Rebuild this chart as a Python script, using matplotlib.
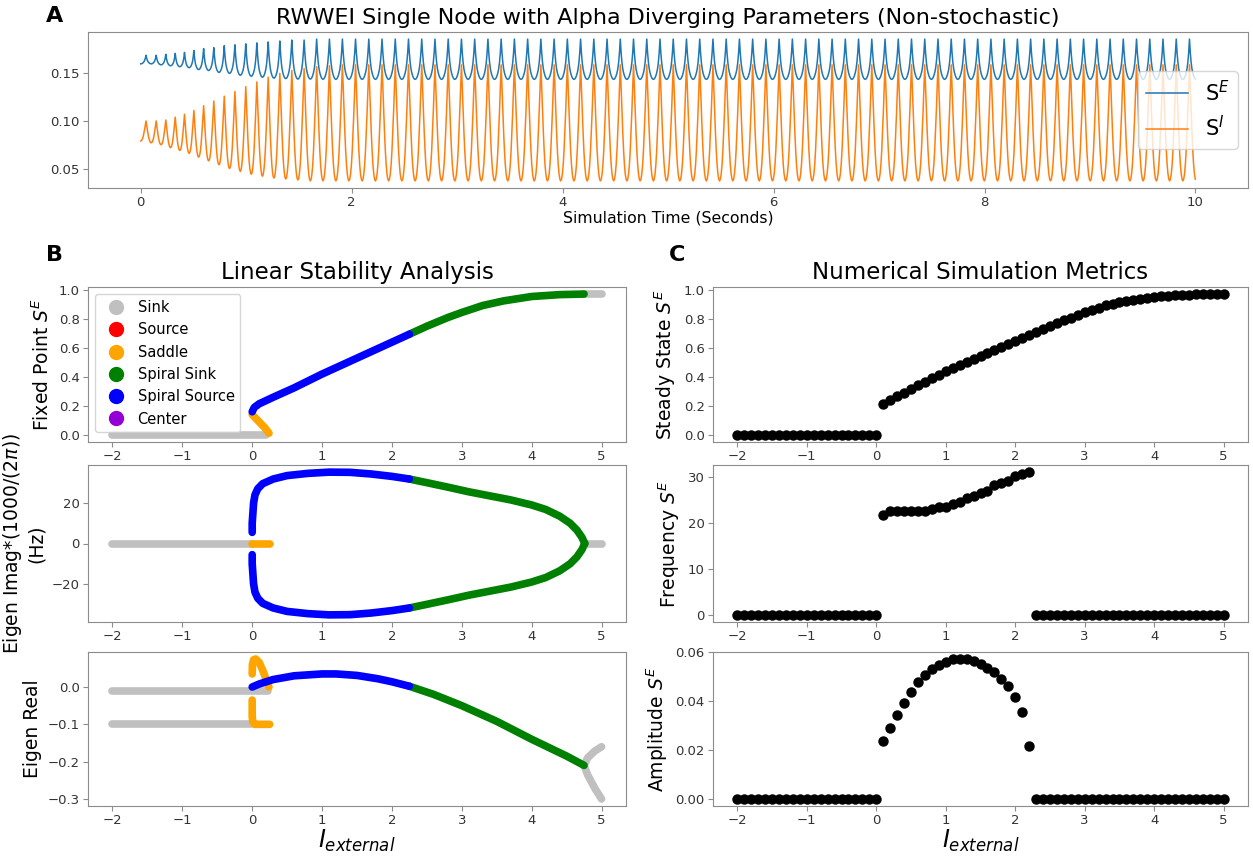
import matplotlib
matplotlib.use("Agg")
from matplotlib import pyplot as plt
from matplotlib.lines import Line2D
import numpy as np

# ---------------- panel A: read cycle by cycle off the traces ----------------
# first 19 cycles (trough -> peak -> trough), oscillation still growing
early_period = [0.100, 0.093, 0.090, 0.088, 0.088, 0.090, 0.095, 0.098, 0.100, 0.102,
                0.104, 0.106, 0.109, 0.112, 0.115, 0.118, 0.120, 0.122, 0.124]
se_hi = [0.169, 0.169, 0.170, 0.171, 0.172, 0.174, 0.176, 0.177, 0.179, 0.180,
         0.181, 0.182, 0.183, 0.184, 0.185, 0.185, 0.186, 0.186, 0.186]
se_lo = [0.160, 0.160, 0.159, 0.158, 0.157, 0.156, 0.154, 0.153, 0.151, 0.150,
         0.148, 0.147, 0.146, 0.145, 0.1445, 0.144, 0.144, 0.1438, 0.1437]
si_hi = [0.100, 0.100, 0.101, 0.104, 0.107, 0.111, 0.116, 0.121, 0.126, 0.131,
         0.136, 0.141, 0.146, 0.150, 0.153, 0.155, 0.157, 0.158, 0.159]
si_lo = [0.079, 0.077, 0.075, 0.072, 0.069, 0.066, 0.062, 0.058, 0.054, 0.050,
         0.047, 0.044, 0.042, 0.040, 0.039, 0.038, 0.037, 0.037, 0.037]
# after ~2 s the cycles repeat
steady_period = 0.1255
steady_cycles = 64
se_steady = (0.1437, 0.186)   # trough, peak
si_steady = (0.037, 0.159)
# one cycle, normalised (0 = trough, 1 = peak)
shape_se = [0, 0.01, 0.04, 0.09, 0.16, 0.26, 0.42, 0.66, 1.0, 0.66, 0.42, 0.26, 0.16, 0.09, 0.04, 0.01]
shape_si = [0, 0.015, 0.06, 0.14, 0.26, 0.42, 0.60, 0.80, 1.0, 0.80, 0.60, 0.42, 0.26, 0.14, 0.06, 0.015]

# ---------------- panel B: branches of the bifurcation diagram ----------------
fp_sink_x = [-2.0, 0.2]
fp_sink_y = [0.0, 0.0]
fp_sink2_x = [4.75, 5.0]
fp_sink2_y = [0.972, 0.972]
fp_saddle_x = [0.0, 0.06, 0.12, 0.18, 0.22, 0.24]
fp_saddle_y = [0.14, 0.11, 0.08, 0.05, 0.025, 0.012]
fp_ssrc_x = [0.0, 0.03, 0.1, 0.3, 0.6, 1.0, 1.5, 2.0, 2.25]
fp_ssrc_y = [0.16, 0.19, 0.215, 0.26, 0.325, 0.42, 0.53, 0.64, 0.695]
fp_ssink_x = [2.25, 2.5, 2.8, 3.0, 3.3, 3.6, 4.0, 4.4, 4.75]
fp_ssink_y = [0.695, 0.75, 0.81, 0.845, 0.893, 0.925, 0.955, 0.968, 0.972]

im_sink_x = [-2.0, 0.0]
im_sink2_x = [4.78, 5.0]
im_saddle_x = [0.0, 0.25]
im_ssrc_x = [0.0, 0.0, 0.01, 0.02, 0.04, 0.08, 0.15, 0.3, 0.5, 0.8, 1.1, 1.4, 1.7, 2.0, 2.25]
im_ssrc_y = [5.5, 10, 15, 20, 24, 27, 29.5, 31.8, 33.5, 34.6, 35.2, 35.1, 34.3, 33.1, 31.8]
im_ssink_x = [2.25, 2.5, 2.8, 3.1, 3.4, 3.7, 4.0, 4.2, 4.4, 4.55, 4.65, 4.72, 4.76]
im_ssink_y = [31.8, 30.0, 27.8, 25.5, 23.5, 21.5, 19.0, 16.8, 13.5, 10.0, 6.5, 3.0, 0.0]

re_sink_a_x = [-2.0, 0.22]
re_sink_a_y = [-0.01, -0.01]
re_sink_b_x = [-2.0, 0.0]
re_sink_b_y = [-0.1, -0.1]
re_saddle_up_x = [0.0, 0.003, 0.02, 0.05, 0.1, 0.15, 0.2, 0.24]
re_saddle_up_y = [0.035, 0.06, 0.073, 0.075, 0.066, 0.045, 0.02, 0.0]
re_saddle_dn_x = [0.0, 0.0, 0.01, 0.04, 0.1, 0.25]
re_saddle_dn_y = [-0.035, -0.08, -0.095, -0.1, -0.1, -0.1]
re_ssrc_x = [0.0, 0.1, 0.3, 0.6, 1.0, 1.2, 1.5, 1.8, 2.0, 2.25]
re_ssrc_y = [0.0, 0.008, 0.02, 0.03, 0.035, 0.035, 0.031, 0.022, 0.014, 0.002]
re_ssink_x = [2.25, 2.6, 3.0, 3.5, 4.0, 4.5, 4.75]
re_ssink_y = [0.002, -0.02, -0.05, -0.092, -0.14, -0.185, -0.21]
re_sink_up_x = [4.75, 4.8, 4.9, 5.0]
re_sink_up_y = [-0.21, -0.19, -0.172, -0.16]
re_sink_dn_x = [4.75, 4.8, 4.9, 5.0]
re_sink_dn_y = [-0.21, -0.235, -0.27, -0.30]

# ---------------- panel C: simulation sweep, I = -2 .. 5 step 0.1 ----------------
i_sweep = np.linspace(-2, 5, 71)
steady = [0.0] * 21 + [0.213, 0.242, 0.269, 0.292, 0.319, 0.342, 0.364, 0.391, 0.417, 0.441,
                       0.462, 0.482, 0.505, 0.525, 0.548, 0.568, 0.590, 0.609, 0.629, 0.652,
                       0.672, 0.692, 0.710, 0.731, 0.751, 0.771, 0.791, 0.811, 0.830, 0.846,
                       0.864, 0.880, 0.894, 0.907, 0.917, 0.926, 0.934, 0.942, 0.949, 0.954,
                       0.958, 0.962, 0.965, 0.967, 0.969, 0.970, 0.971, 0.972, 0.972, 0.973]
freq = [0.0] * 21 + [21.7, 22.6, 22.6, 22.6, 22.6, 22.6, 22.6, 23.1, 23.6, 23.6, 24.1,
                     24.6, 25.5, 26.0, 26.5, 27.0, 28.2, 28.7, 29.1, 30.2, 30.7, 31.1] + [0.0] * 28
amp = [0.0] * 21 + [0.0238, 0.0289, 0.0344, 0.0394, 0.0437, 0.0477, 0.0507, 0.0531, 0.0550, 0.0562,
                    0.0571, 0.0573, 0.0571, 0.0564, 0.0554, 0.0538, 0.0520, 0.0492, 0.0461, 0.0418,
                    0.0356, 0.0215] + [0.0] * 28

SINK, SOURCE, SADDLE, SSINK, SSRC, CENTER = "silver", "red", "orange", "green", "blue", "darkviolet"


def trace(lo, hi, periods, shape):
    t, v = [], []
    t0 = 0.0
    n = len(shape)
    for k, p in enumerate(periods):
        lo_next = lo[k + 1] if k + 1 < len(lo) else lo[k]
        for j in range(n):
            base = lo[k] if j <= n // 2 else lo_next
            t.append(t0 + p * j / n)
            v.append(base + (hi[k] - base) * shape[j])
        t0 += p
    t, v = np.array(t), np.array(v)
    keep = t <= 10.0
    return t[keep], v[keep]


periods = early_period + [steady_period] * steady_cycles
t_se, v_se = trace(se_lo + [se_steady[0]] * steady_cycles, se_hi + [se_steady[1]] * steady_cycles, periods, shape_se)
t_si, v_si = trace(si_lo + [si_steady[0]] * steady_cycles, si_hi + [si_steady[1]] * steady_cycles, periods, shape_si)

W, H = 1253, 856
fig = plt.figure(figsize=(W / 100, H / 100), dpi=100)


def box(x0, x1, y0, y1):
    return fig.add_axes([x0 / W, 1 - y1 / H, (x1 - x0) / W, (y1 - y0) / H])


def tidy(ax, ts=9.5):
    for s in ax.spines.values():
        s.set_color("#8c8c8c")
    ax.tick_params(labelsize=ts, color="#8c8c8c", labelcolor="#333333", pad=2.5)


# ---- A ----
axA = box(88, 1248, 32, 188)
axA.plot(t_se, v_se, color="#1f77b4", lw=1.1, label="S$^E$")
axA.plot(t_si, v_si, color="#ff7f0e", lw=1.1, label="S$^I$")
axA.set_xticks([0, 2, 4, 6, 8, 10])
axA.set_yticks([0.05, 0.10, 0.15])
axA.set_title("RWWEI Single Node with Alpha Diverging Parameters (Non-stochastic)", fontsize=16)
axA.set_xlabel("Simulation Time (Seconds)", fontsize=11.3, labelpad=1)
axA.legend(loc="center right", fontsize=15)
tidy(axA, 9.5)

# ---- B ----
lw = 5.5
kw = dict(lw=lw, solid_capstyle="round", solid_joinstyle="round")
axB1 = box(88, 626, 287, 442)
axB1.plot(fp_sink_x, fp_sink_y, color=SINK, **kw)
axB1.plot(fp_sink2_x, fp_sink2_y, color=SINK, **kw)
axB1.plot(fp_saddle_x, fp_saddle_y, color=SADDLE, **kw)
axB1.plot(fp_ssink_x, fp_ssink_y, color=SSINK, **kw)
axB1.plot(fp_ssrc_x, fp_ssrc_y, color=SSRC, **kw)
axB1.set_yticks([0, 0.2, 0.4, 0.6, 0.8, 1.0])
axB1.set_ylabel("Fixed Point $S^E$", fontsize=13.5)
axB1.set_title("Linear Stability Analysis", fontsize=16.5)
handles = [Line2D([], [], ls="", marker="o", ms=10, color=c) for c in [SINK, SOURCE, SADDLE, SSINK, SSRC, CENTER]]
axB1.legend(handles, ["Sink", "Source", "Saddle", "Spiral Sink", "Spiral Source", "Center"],
            loc="upper left", fontsize=10.5, handletextpad=0.5)

axB2 = box(88, 626, 465, 622)
axB2.plot(im_sink_x, [0, 0], color=SINK, **kw)
axB2.plot(im_sink2_x, [0, 0], color=SINK, **kw)
axB2.plot(im_saddle_x, [0, 0], color=SADDLE, **kw)
axB2.plot(im_ssink_x, im_ssink_y, color=SSINK, **kw)
axB2.plot(im_ssink_x, [-v for v in im_ssink_y], color=SSINK, **kw)
axB2.plot(im_ssrc_x, im_ssrc_y, color=SSRC, **kw)
axB2.plot(im_ssrc_x, [-v for v in im_ssrc_y], color=SSRC, **kw)
axB2.set_yticks([-20, 0, 20])
axB2.set_ylabel("Eigen Imag*(1000/(2$\\pi$))\n(Hz)", fontsize=13.5)

axB3 = box(88, 626, 652, 806)
axB3.plot(re_sink_a_x, re_sink_a_y, color=SINK, **kw)
axB3.plot(re_sink_b_x, re_sink_b_y, color=SINK, **kw)
axB3.plot(re_sink_up_x, re_sink_up_y, color=SINK, **kw)
axB3.plot(re_sink_dn_x, re_sink_dn_y, color=SINK, **kw)
axB3.plot(re_saddle_up_x, re_saddle_up_y, color=SADDLE, **kw)
axB3.plot(re_saddle_dn_x, re_saddle_dn_y, color=SADDLE, **kw)
axB3.plot(re_ssink_x, re_ssink_y, color=SSINK, **kw)
axB3.plot(re_ssrc_x, re_ssrc_y, color=SSRC, **kw)
axB3.set_yticks([-0.3, -0.2, -0.1, 0.0])
axB3.set_ylabel("Eigen Real", fontsize=13.5)
axB3.set_xlabel("$I_{external}$", fontsize=17, labelpad=0)

# ---- C ----
axC1 = box(713, 1248, 287, 442)
axC1.plot(i_sweep, steady, "o", color="black", ms=6.5)
axC1.set_yticks([0, 0.2, 0.4, 0.6, 0.8, 1.0])
axC1.set_ylabel("Steady State $S^E$", fontsize=13.5)
axC1.set_title("Numerical Simulation Metrics", fontsize=16.5)

axC2 = box(713, 1248, 465, 622)
axC2.plot(i_sweep, freq, "o", color="black", ms=6.5)
axC2.set_yticks([0, 10, 20, 30])
axC2.set_ylabel("Frequency $S^E$", fontsize=13.5)

axC3 = box(713, 1248, 652, 806)
axC3.plot(i_sweep, amp, "o", color="black", ms=6.5)
axC3.set_yticks([0, 0.02, 0.04, 0.06])
axC3.set_ylabel("Amplitude $S^E$", fontsize=13.5)
axC3.set_xlabel("$I_{external}$", fontsize=17, labelpad=0)

for ax in [axB1, axB2, axB3, axC1, axC2, axC3]:
    ax.set_xticks([-2, -1, 0, 1, 2, 3, 4, 5])
    tidy(ax, 9.5)

fig.text(55 / W, 1 - 16 / H, "A", fontsize=16, fontweight="bold", va="center", ha="center")
fig.text(55 / W, 1 - 255 / H, "B", fontsize=16, fontweight="bold", va="center", ha="center")
fig.text(677 / W, 1 - 255 / H, "C", fontsize=16, fontweight="bold", va="center", ha="center")

fig.savefig("out.png", dpi=100)
